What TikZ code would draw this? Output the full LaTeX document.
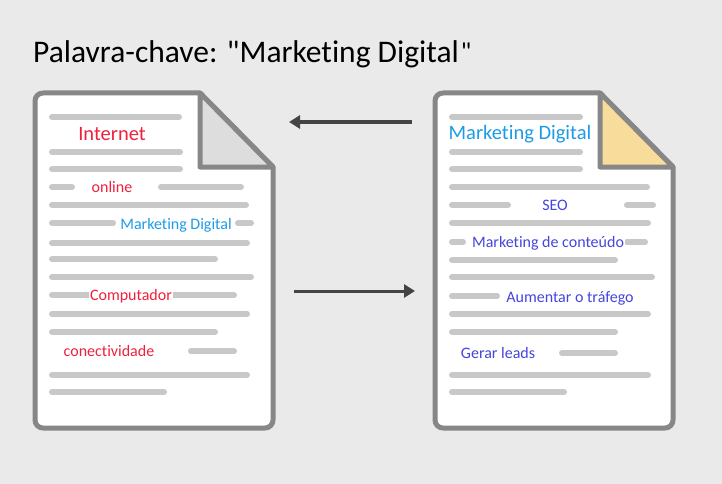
\documentclass[tikz,border=0pt]{standalone}
\usepackage{fontspec}
\setmainfont{Carlito}[Ligatures=NoCommon]
\newfontfamily\titlefont{Carlito}[Ligatures=NoCommon]
\usetikzlibrary{arrows.meta}

\definecolor{bggray}{HTML}{EAEAEA}
\definecolor{framegray}{HTML}{878787}
\definecolor{linegray}{HTML}{C8C8C8}
\definecolor{foldgray}{HTML}{DDDDDD}
\definecolor{foldorange}{HTML}{F8DC9C}
\definecolor{kwred}{HTML}{F0203C}
\definecolor{kwblue}{HTML}{1E9BE6}
\definecolor{kwindigo}{HTML}{4646DC}
\definecolor{arrowgray}{HTML}{444444}

\begin{document}
\begin{tikzpicture}[x=1pt,y=-1pt,
    docframe/.style={draw=framegray,line width=5pt,fill=white,line join=round},
    docfold/.style={draw=framegray,line width=5pt,line join=round},
    txtline/.style={draw=linegray,line width=6pt,line cap=round},
    bigword/.style={inner sep=0pt,anchor=mid,font=\fontsize{20.5}{24}\selectfont},
    word/.style={inner sep=0pt,anchor=mid,font=\fontsize{16}{19}\selectfont},
    link/.style={draw=arrowgray,line width=3pt,-{Triangle[length=11pt,width=13pt]}}]
    \useasboundingbox[fill=bggray] (0,0) rectangle (722,484);
    \node[anchor=base west,inner sep=0pt,font=\titlefont\fontsize{31.5}{36}\selectfont] (title) at (33,63)
        {Palavra-chave: "Marketing Digital\raisebox{2pt}{\fontsize{26}{30}\selectfont\kern2pt"}};

    % left document
    \draw[docframe] (200,93) -- (273,167) [rounded corners=8pt] -- (273,428) -- (35,428) -- (35,93) [sharp corners] -- cycle;
    \draw[docfold,fill=foldgray] (200,93) -- (200,167) -- (273,167) -- cycle;
    \foreach \y/\a/\b in {117/52/179, 152/52/180, 169/52/180, 187/52/72, 187/161/241,
        205/52/246, 223/52/113, 223/238/251, 243/52/247, 259/52/215, 277/52/251,
        295/52/89, 295/173/234, 314/52/247, 332/52/215, 351/191/234, 375/52/247, 392/52/164}
        \draw[txtline] (\a,\y) -- (\b,\y);
    \node[bigword,text=kwred] (internet) at (112,138) {Internet};
    \node[word,text=kwred] (online) at (112,190) {online};
    \node[word,text=kwblue] (mdleft) at (176,227) {Marketing Digital};
    \node[word,fill=white,inner xsep=1pt,text=kwred] (comp) at (131,298) {Computador};
    \node[word,text=kwred] (conect) at (109,354) {conectividade};

    % right document
    \draw[docframe] (600,93) -- (673,167) [rounded corners=8pt] -- (673,428) -- (435,428) -- (435,93) [sharp corners] -- cycle;
    \draw[docfold,fill=foldorange] (600,93) -- (600,167) -- (673,167) -- cycle;
    \foreach \y/\a/\b in {117/452/580, 152/452/580, 169/452/580, 187/452/647,
        205/452/508, 205/627/653, 223/452/648, 242/452/463, 242/627/645, 260/452/615,
        277/452/652, 296/452/497, 314/452/648, 332/452/615, 353/562/615, 375/452/648, 392/452/564}
        \draw[txtline] (\a,\y) -- (\b,\y);
    \node[bigword,text=kwblue] (mdright) at (520,137) {Marketing Digital};
    \node[word,text=kwindigo] (seo) at (555,208) {SEO};
    \node[word,fill=white,inner xsep=1pt,text=kwindigo] (conteudo) at (548,245) {Marketing de conteúdo};
    \node[word,text=kwindigo] (trafego) at (570,300) {Aumentar o tráfego};
    \node[word,text=kwindigo] (leads) at (498,356) {Gerar leads};

    % arrows between the documents
    \coordinate (topR) at (412,122);
    \coordinate (topL) at (289,122);
    \coordinate (botL) at (294,291);
    \coordinate (botR) at (415,291);
    \draw[link] (topR) -- (topL);
    \draw[link] (botL) -- (botR);
\end{tikzpicture}
\end{document}
